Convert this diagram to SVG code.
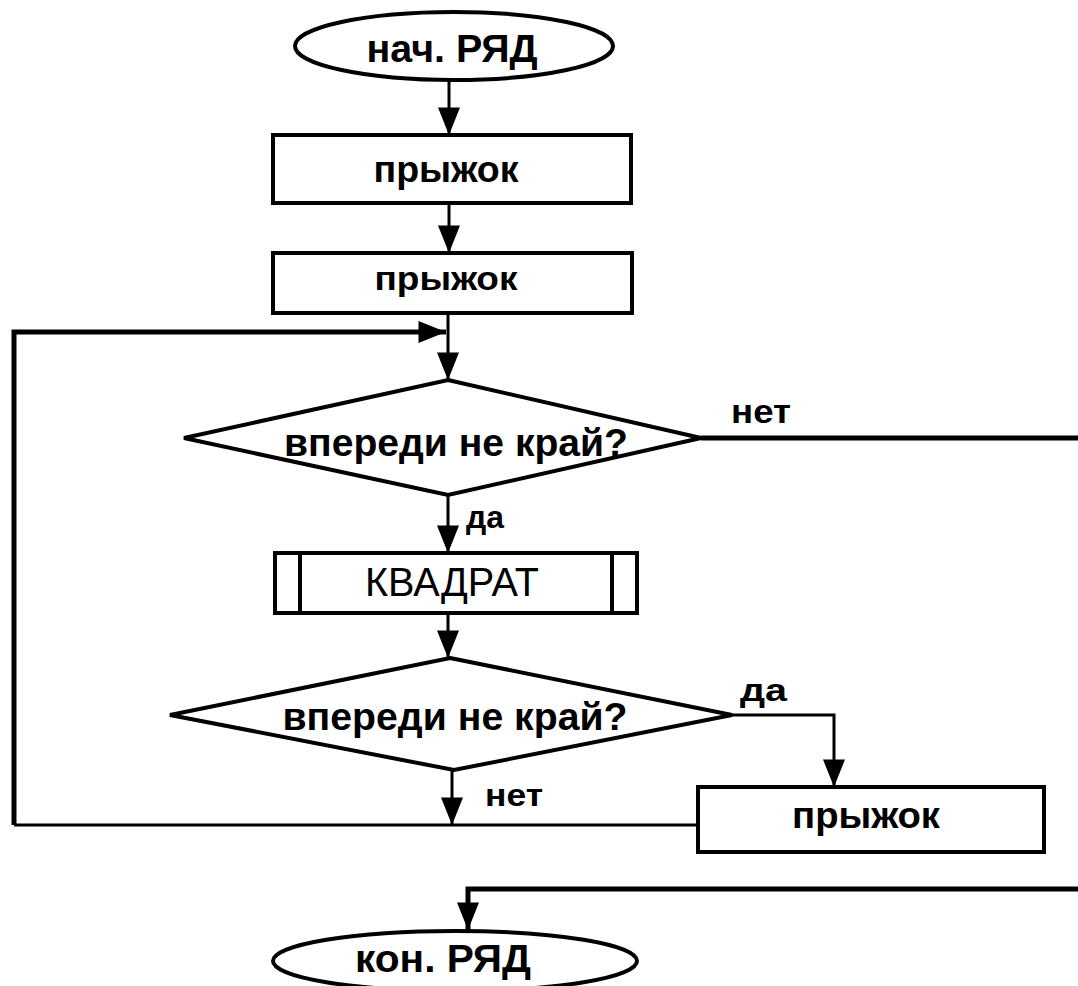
<svg xmlns="http://www.w3.org/2000/svg" width="1078" height="986" viewBox="0 0 1078 986">
<defs>
<style>
.shape{fill:#fff;stroke:#000;stroke-width:4}
.conn{fill:none;stroke:#000;stroke-width:3}
.thick{fill:none;stroke:#000;stroke-width:5}
.t{font-family:"Liberation Sans",Arial,sans-serif;font-weight:bold;fill:#000;text-anchor:middle}
.r{font-family:"Liberation Sans",Arial,sans-serif;font-weight:normal;fill:#000;text-anchor:middle}
.l{font-family:"Liberation Sans",Arial,sans-serif;font-weight:bold;fill:#000}
</style>
<marker id="ah" viewBox="0 0 30 24" refX="30" refY="12" markerWidth="30" markerHeight="22" markerUnits="userSpaceOnUse" orient="auto">
<path d="M0,0 L30,12 L0,24 z" fill="#000"/>
</marker>
</defs>
<rect width="1078" height="986" fill="#fff"/>
<g id="connectors">
<path class="conn" d="M449,80 V135" marker-end="url(#ah)"/>
<path class="conn" d="M449,203 V253" marker-end="url(#ah)"/>
<path class="conn" d="M448,313 V380" marker-end="url(#ah)"/>
<path class="conn" d="M698,825 H14"/>
<path class="thick" d="M14,825 V332 H446" marker-end="url(#ah)"/>
<path class="conn" d="M448,493 V553" marker-end="url(#ah)"/>
<path class="conn" d="M448,613 V658" marker-end="url(#ah)"/>
<path class="conn" d="M732,715 H834 V787" marker-end="url(#ah)"/>
<path class="conn" d="M452,770 V825" marker-end="url(#ah)"/>
<path class="thick" d="M701,438 H1078"/>
<path class="thick" d="M1078,889 H468 V930" marker-end="url(#ah)"/>
<text class="l" x="466" y="528" font-size="32" textLength="38" lengthAdjust="spacingAndGlyphs">да</text>
<text class="l" x="731" y="423" font-size="34" textLength="60" lengthAdjust="spacingAndGlyphs">нет</text>
<text class="l" x="740" y="701" font-size="32" textLength="47" lengthAdjust="spacingAndGlyphs">да</text>
<text class="l" x="485" y="806" font-size="32" textLength="58" lengthAdjust="spacingAndGlyphs">нет</text>
</g>
<g id="start">
<ellipse class="shape" cx="454" cy="46" rx="159" ry="34"/>
<text class="t" x="452" y="62" font-size="38" textLength="171" lengthAdjust="spacingAndGlyphs">нач. РЯД</text>
</g>
<g id="jump1">
<rect class="shape" x="273" y="135" width="358" height="68"/>
<text class="t" x="446" y="182" font-size="36" textLength="145" lengthAdjust="spacingAndGlyphs">прыжок</text>
</g>
<g id="jump2">
<rect class="shape" x="273" y="253" width="359" height="60"/>
<text class="t" x="446" y="290" font-size="34" textLength="143" lengthAdjust="spacingAndGlyphs">прыжок</text>
</g>
<g id="cond1">
<polygon class="shape" points="448,380 701,438 448,495 184,438"/>
<text class="t" x="456" y="456" font-size="38" textLength="344" lengthAdjust="spacingAndGlyphs">впереди не край?</text>
</g>
<g id="square">
<rect class="shape" x="275" y="553" width="362" height="60"/>
<line class="shape" x1="300" y1="553" x2="300" y2="613"/>
<line class="shape" x1="612" y1="553" x2="612" y2="613"/>
<text class="r" x="452" y="596" font-size="40" textLength="174" lengthAdjust="spacingAndGlyphs">КВАДРАТ</text>
</g>
<g id="cond2">
<polygon class="shape" points="450,658 732,715 454,770 170,715"/>
<text class="t" x="455" y="730" font-size="38" textLength="345" lengthAdjust="spacingAndGlyphs">впереди не край?</text>
</g>
<g id="jump3">
<rect class="shape" x="698" y="787" width="346" height="65"/>
<text class="t" x="866" y="828" font-size="36" textLength="148" lengthAdjust="spacingAndGlyphs">прыжок</text>
</g>
<g id="end">
<ellipse class="shape" cx="455" cy="961" rx="182" ry="30"/>
<text class="t" x="443" y="972" font-size="38" textLength="176" lengthAdjust="spacingAndGlyphs">кон. РЯД</text>
</g>
</svg>
